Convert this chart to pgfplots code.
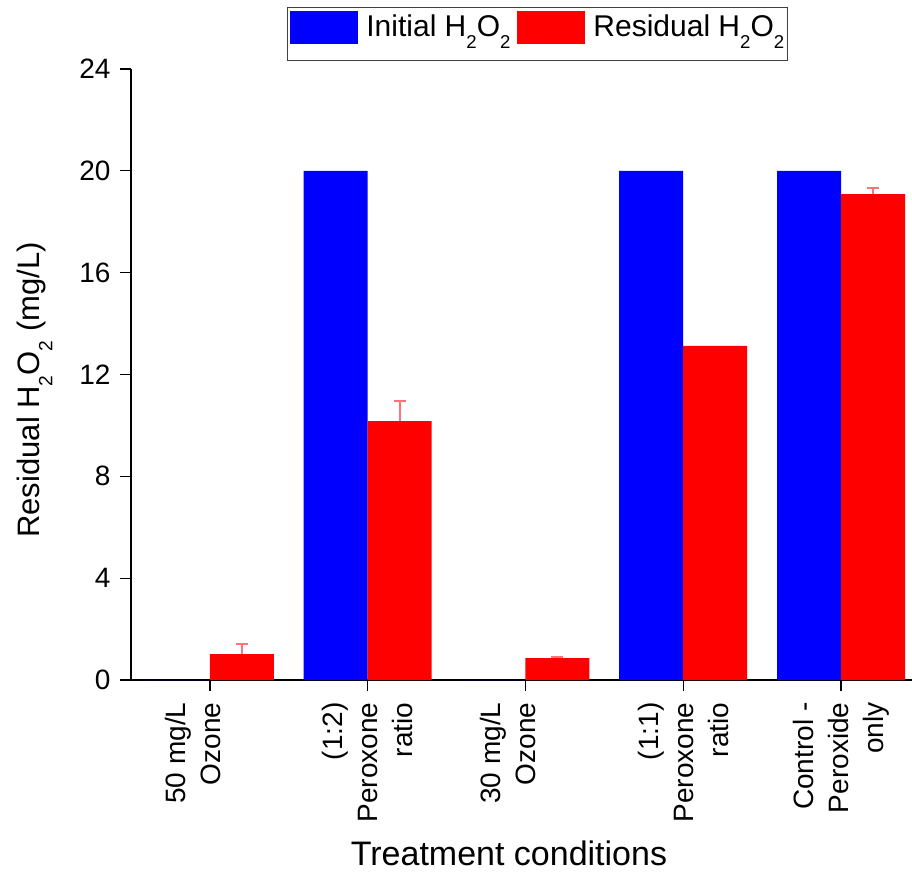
\documentclass[border=0pt]{standalone}
\usepackage{graphicx}
\usepackage{pgfplots}
\pgfplotsset{compat=1.18}
\usepackage{fontspec}
\setmainfont{Liberation Sans}

\definecolor{barblue}{RGB}{0,0,255}
\definecolor{barred}{RGB}{255,0,0}

% lowered, reduced subscript
\newcommand\sub[1]{\raisebox{-0.4em}{\scalebox{0.62}{#1}}}

\begin{document}
\begin{tikzpicture}
\begin{axis}[
  scale only axis,
  width=781pt, height=611pt,
  xmin=-0.5, xmax=4.45,
  ymin=0, ymax=24,
  ytick={0,4,...,24},
  xtick={0,1,2,3,4},
  xticklabels={
    {50 mg/L\\Ozone\\\mbox{}},
    {(1:2)\\Peroxone\\ratio},
    {30 mg/L\\Ozone\\\mbox{}},
    {(1:1)\\Peroxone\\ratio},
    {Control -\\Peroxide\\only}},
  axis x line*=bottom,
  axis y line*=left,
  axis line style={line width=1.3pt},
  tick style={line width=1.3pt, black},
  major tick length=11pt,
  tick align=outside,
  minor tick num=0,
  /pgf/number format/assume math mode=true,
  tick label style={font=\fontsize{28}{35}\selectfont},
  xticklabel style={rotate=90, anchor=east, align=right},
  xticklabel shift=8pt,
  yticklabel shift=6pt,
  xlabel={Treatment conditions},
  xlabel style={font=\fontsize{34}{40}\selectfont,
    at={([shift={(-12.5pt,-185pt)}]axis description cs:0.5,0)}, anchor=base},
  ylabel={Residual H\sub{2}O\sub{2} (mg/L)},
  ylabel style={font=\fontsize{31}{37}\selectfont,
    at={([shift={(-91pt,-15.5pt)}]axis description cs:0,0.5)}, anchor=base, rotate=0},
  ybar,
  bar width=64pt,
  legend columns=2,
  legend style={
    at={([shift={(156pt,62pt)}]axis description cs:0,1)}, anchor=north west,
    draw=black!75, line width=0.8pt,
    font=\fontsize{30}{36}\selectfont,
    inner xsep=3pt, inner ysep=0pt,
    nodes={inner sep=0pt},
    /tikz/every odd column/.append style={column sep=8pt},
    /tikz/every even column/.append style={column sep=7pt},
  },
  legend image code/.code={
    \path[draw=none, fill=none] (0pt,-21pt) rectangle (68pt,30pt);
    \fill[#1] (0pt,-7pt) rectangle (68pt,26pt);
  },
]
% Initial peroxide dose
\addplot[fill=barblue, draw=none, bar shift=-32pt]
  coordinates {(0,0) (1,20) (2,0) (3,20) (4,20)};
\addlegendentry{\raisebox{23pt}{Initial H\sub{2}O\sub{2}}}

% Peroxide left after treatment
\addplot[fill=barred, draw=none, bar shift=32pt]
  coordinates {(0,1.02) (1,10.17) (2,0.86) (3,13.12) (4,19.09)};
\addlegendentry{\raisebox{23pt}{Residual H\sub{2}O\sub{2}}}

% Standard deviations, where they were measured
\addplot[draw=none, fill=none, bar shift=32pt, forget plot,
  error bars/.cd, y dir=plus, y explicit,
  error bar style={color=barred!55, line width=2pt},
  error mark options={rotate=90, mark size=6pt, color=barred!55, line width=2pt}]
  coordinates {
    (0,1.02)  +- (0,0.40)
    (1,10.17) +- (0,0.80)
    (2,0.86)  +- (0,0.05)
    (4,19.09) +- (0,0.22)
  };
\end{axis}
\pgfresetboundingbox
\useasboundingbox ([shift={(-131pt,-193pt)}]current axis.south west)
  rectangle ([shift={(0pt,69pt)}]current axis.north east);
\end{tikzpicture}
\end{document}
